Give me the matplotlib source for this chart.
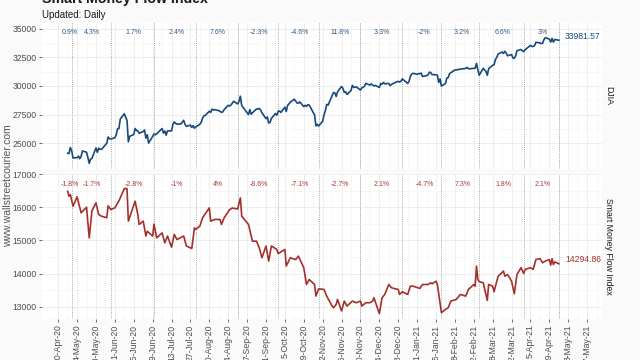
import matplotlib
matplotlib.use('Agg')
import matplotlib.pyplot as plt
import matplotlib.transforms as mtrans
import numpy as np
import pandas as pd

plt.rcParams['font.family'] = ['Liberation Sans', 'DejaVu Sans']

# ---------------- data ----------------
djia_apr20 = [24133.78, 24101.55, 24633.86, 24345.72]
djia_may20 = [23723.69, 23749.76, 23883.09, 23664.64, 23875.89, 24331.32, 24221.99, 23764.78, 23247.97, 23625.34,
              23685.42, 24597.37, 24206.86, 24575.90, 24474.12, 24465.16, 24995.11, 25548.27, 25400.64, 25383.11]
djia_jun20 = [25475.02, 25742.65, 26269.89, 26281.82, 27110.98, 27572.44, 27272.30, 26989.99, 25128.17, 25605.54,
              25763.16, 26289.98, 26119.61, 26080.10, 25871.46, 26024.96, 26156.10, 25445.94, 25745.60, 25015.55,
              25595.80, 25812.88]
djia_jul20 = [25734.97, 25827.36, 26287.03, 25890.18, 26067.28, 25706.09, 26075.30, 26085.80, 26642.59, 26870.10,
              26734.71, 26671.95, 26680.87, 26840.40, 27005.84, 26652.33, 26469.89, 26584.77, 26379.28, 26539.57,
              26313.65, 26428.32]
djia_aug20 = [26664.40, 26828.47, 27201.52, 27386.98, 27433.48, 27791.44, 27686.91, 27976.84, 27896.72, 27931.02,
              27844.91, 27778.07, 27692.88, 27739.73, 27930.33, 28308.46, 28248.44, 28331.92, 28492.27, 28653.87,
              28430.05]
djia_sep20 = [28645.66, 29100.50, 28292.73, 28133.31, 27500.89, 27940.47, 27534.58, 27665.64, 27993.33, 27995.60,
              28032.38, 27901.98, 27657.42, 27147.70, 27288.18, 26763.13, 26815.44, 27173.96, 27584.06, 27452.66,
              27781.70]
djia_oct20 = [27816.90, 27682.81, 28148.64, 27772.76, 28303.46, 28425.51, 28586.90, 28837.52, 28679.81, 28514.00,
              28494.20, 28606.31, 28195.42, 28308.79, 28210.82, 28363.66, 28335.57, 27685.38, 27463.19, 26519.95,
              26659.11, 26501.60]
djia_nov20 = [26925.05, 27480.03, 27847.66, 28390.18, 28323.40, 29157.97, 29420.92, 29397.63, 29080.17, 29479.81,
              29950.44, 29783.35, 29438.42, 29483.23, 29263.48, 29591.27, 30046.24, 29872.47, 29910.37, 29638.64]
djia_dec20 = [29823.92, 29883.79, 29969.52, 30218.26, 30069.79, 30173.88, 30068.81, 29999.26, 30046.37, 29861.55,
              30199.31, 30154.54, 30303.37, 30179.05, 30216.45, 30015.51, 30129.83, 30199.87, 30403.97, 30335.67,
              30409.56, 30606.48]
djia_jan21 = [30223.89, 30391.60, 30829.40, 31041.13, 31097.97, 31008.69, 31068.69, 31060.47, 31112.04, 30814.26,
              30930.52, 31188.38, 31176.01, 30996.98, 30960.00, 30937.04, 30303.17, 30603.36, 29982.62]
djia_feb21 = [30211.91, 30687.48, 30723.60, 31055.86, 31148.24, 31385.76, 31375.83, 31437.80, 31430.70, 31458.40,
              31522.75, 31613.02, 31493.34, 31494.32, 31521.69, 31537.35, 31961.86, 31402.01, 30932.37]
djia_mar21 = [31535.51, 31391.52, 31270.09, 30924.14, 31496.30, 31802.44, 31832.74, 32297.02, 32485.59, 32778.64,
              32953.46, 32825.95, 33015.37, 32862.30, 32627.97, 32731.20, 32423.15, 32420.06, 32619.48, 33072.88,
              33171.37, 33066.96, 32981.55]
djia_apr21 = [33153.21, 33527.19, 33430.24, 33446.26, 33503.57, 33800.60, 33745.40, 33677.27, 33730.89, 34035.99,
              34200.67, 34077.63, 33821.30, 34137.31, 33815.90, 34043.49, 33981.57]

market_holidays = ['2020-05-25', '2020-07-03', '2020-09-07', '2020-11-26', '2020-12-25',
                   '2021-01-01', '2021-01-18', '2021-02-15', '2021-04-02']

smfi_dates = [
    '2020-04-27', '2020-04-28', '2020-04-29', '2020-04-30', '2020-05-01', '2020-05-04', '2020-05-07', '2020-05-11',
    '2020-05-13', '2020-05-15', '2020-05-18', '2020-05-20', '2020-05-22', '2020-05-26', '2020-05-27', '2020-05-29',
    '2020-06-01', '2020-06-04', '2020-06-08', '2020-06-10', '2020-06-11', '2020-06-16', '2020-06-18', '2020-06-19',
    '2020-06-22', '2020-06-24', '2020-06-25', '2020-06-29', '2020-06-30', '2020-07-02', '2020-07-06', '2020-07-08',
    '2020-07-10', '2020-07-13', '2020-07-15', '2020-07-17', '2020-07-22', '2020-07-24', '2020-07-28', '2020-07-30',
    '2020-07-31', '2020-08-03', '2020-08-05', '2020-08-10', '2020-08-11', '2020-08-14', '2020-08-18', '2020-08-19',
    '2020-08-21', '2020-08-25', '2020-08-27', '2020-08-31', '2020-09-02', '2020-09-03', '2020-09-04', '2020-09-08',
    '2020-09-11', '2020-09-14', '2020-09-16', '2020-09-18', '2020-09-21', '2020-09-23', '2020-09-25', '2020-09-29',
    '2020-09-30', '2020-10-01', '2020-10-05', '2020-10-06', '2020-10-09', '2020-10-13', '2020-10-15', '2020-10-19',
    '2020-10-21', '2020-10-23', '2020-10-27', '2020-10-28', '2020-10-30', '2020-11-03', '2020-11-05', '2020-11-09',
    '2020-11-10', '2020-11-12', '2020-11-13', '2020-11-16', '2020-11-18', '2020-11-20', '2020-11-24', '2020-11-27',
    '2020-11-30', '2020-12-01', '2020-12-04', '2020-12-07', '2020-12-09', '2020-12-10', '2020-12-14', '2020-12-16',
    '2020-12-18', '2020-12-21', '2020-12-23', '2020-12-28', '2020-12-29', '2020-12-31', '2021-01-04', '2021-01-06',
    '2021-01-08', '2021-01-13', '2021-01-15', '2021-01-19', '2021-01-21', '2021-01-22', '2021-01-25', '2021-01-26',
    '2021-01-29', '2021-02-01', '2021-02-03', '2021-02-05', '2021-02-09', '2021-02-12', '2021-02-16', '2021-02-18',
    '2021-02-22', '2021-02-23', '2021-02-24', '2021-02-25', '2021-02-26', '2021-03-01', '2021-03-04', '2021-03-05',
    '2021-03-08', '2021-03-09', '2021-03-11', '2021-03-12', '2021-03-16', '2021-03-17', '2021-03-19', '2021-03-22',
    '2021-03-24', '2021-03-26', '2021-03-29', '2021-03-31', '2021-04-01', '2021-04-05', '2021-04-07', '2021-04-09',
    '2021-04-12', '2021-04-14', '2021-04-16', '2021-04-19', '2021-04-20', '2021-04-21', '2021-04-22', '2021-04-23',
    '2021-04-26']
smfi_values = [
    16480, 16330, 16380, 16210, 16030, 16310, 15830, 16000,
    15075, 15890, 16130, 15780, 15730, 15680, 16040, 15930,
    15980, 16190, 16560, 16560, 15580, 16180, 15780, 15480,
    15580, 15130, 15275, 15130, 15486, 15075, 15225, 14925,
    15130, 14795, 15180, 15025, 15130, 14830, 14755, 15380,
    15331, 15430, 15680, 15980, 15580, 15630, 15630, 15480,
    15680, 15925, 15975, 15945, 16280, 15730, 15680, 15480,
    14975, 14975, 14775, 14475, 14830, 14375, 14830, 14725,
    14600, 14625, 14725, 14225, 14475, 14420, 14525, 14175,
    13670, 13820, 13670, 13320, 13540, 13520, 13320, 13020,
    12970, 13070, 13220, 12870, 13170, 13020, 13170, 13120,
    13170, 13020, 13120, 13120, 13170, 13270, 12790, 13270,
    13370, 13670, 13570, 13520, 13370, 13450, 13370, 13620,
    13620, 13550, 13670, 13670, 13720, 13690, 13770, 13670,
    12820, 12920, 12970, 13170, 13220, 13370, 13320, 13520,
    13670, 13620, 14225, 13820, 13755, 13720, 13190, 13670,
    13620, 13450, 13770, 13920, 14075, 13920, 13970, 13770,
    13390, 13970, 14175, 14000, 14125, 14175, 14125, 14420,
    14450, 14325, 14375, 14420, 14255, 14450, 14270, 14350,
    14294.86]

djia_month_pct = ['0.9%', '4.3%', '1.7%', '2.4%', '7.6%', '-2.3%', '-4.6%', '11.8%', '3.3%', '-2%', '3.2%', '6.6%', '3%']
smfi_month_pct = ['-1.8%', '-1.7%', '-2.8%', '-1%', '4%', '-8.6%', '-7.1%', '-2.7%', '2.1%', '-4.7%', '7.3%', '1.8%', '2.1%']

djia_last_label = '33981.57'
smfi_last_label = '14294.86'

djia_yticks = [25000, 27500, 30000, 32500, 35000]
smfi_yticks = [13000, 14000, 15000, 16000, 17000]

# ---------------- build ----------------
djia = (djia_apr20 + djia_may20 + djia_jun20 + djia_jul20 + djia_aug20 + djia_sep20 + djia_oct20 +
        djia_nov20 + djia_dec20 + djia_jan21 + djia_feb21 + djia_mar21 + djia_apr21)
dates = pd.bdate_range('2020-04-27', '2021-04-26')
dates = dates[~dates.isin(pd.to_datetime(market_holidays))]
assert len(dates) == len(djia)
smfi_dt = pd.to_datetime(smfi_dates)

s = pd.Series(dates, index=dates)
per = dates.to_period('M')
month_end = s.groupby(per).max().values
month_mid = s.groupby(per).apply(lambda x: x.mean()).values

tick_dates = pd.date_range('2020-04-20', '2021-05-17', freq='14D')
minor_dates = tick_dates + pd.Timedelta(days=7)

BLUE = '#174a7c'
RED = '#a5302b'
BLUE_TXT = '#2f5b8c'
RED_TXT = '#a53a36'
GRID = '#ebebeb'
TXT = '#4d4d4d'

fig = plt.figure(figsize=(6.4, 3.6), dpi=100, facecolor='#fafafa')
ax1 = fig.add_axes([42 / 640, 1 - 169 / 360, 560 / 640, 146 / 360])
ax2 = fig.add_axes([42 / 640, 1 - 319 / 360, 560 / 640, 145 / 360])

xl = (pd.Timestamp('2020-04-08'), pd.Timestamp('2021-05-28'))

for ax in (ax1, ax2):
    ax.set_facecolor('white')
    for sp in ax.spines.values():
        sp.set_visible(False)
    ax.set_xlim(xl)
    ax.set_xticks(tick_dates)
    ax.set_xticks(minor_dates, minor=True)
    ax.grid(which='major', color=GRID, lw=0.6, zorder=0)
    ax.grid(which='minor', color='#f4f4f4', lw=0.5, zorder=0)
    ax.set_axisbelow(True)
    for d in month_end:
        ax.axvline(d, color='#8a8a8a', lw=0.6, ls=(0, (1, 1.6)), zorder=1)
    ax.tick_params(axis='both', which='major', labelsize=6.2, labelcolor=TXT, color='#333333',
                   length=2.5, width=0.5, pad=1.5)
    ax.tick_params(axis='both', which='minor', length=0)

# top panel
ax1.plot(dates, djia, color=BLUE, lw=1.2, zorder=3)
ax1.set_ylim(22760, 35480)
ax1.set_yticks(djia_yticks)
ax1.set_yticks([26250, 28750, 31250, 33750], minor=True)
ax1.tick_params(axis='x', which='major', length=0, labelbottom=False)
tr1 = mtrans.blended_transform_factory(ax1.transData, ax1.transAxes)
for d, t in zip(month_mid, djia_month_pct):
    ax1.text(d, 0.938, t, transform=tr1, ha='center', va='center', fontsize=5.0, color=BLUE_TXT)
ax1.annotate(djia_last_label, xy=(dates[-1], djia[-1]), xytext=(4.5, 2.5), textcoords='offset points',
             ha='left', va='center', fontsize=6.2, color=BLUE)

# bottom panel
ax2.plot(smfi_dt, smfi_values, color=RED, lw=1.2, zorder=3)
ax2.set_ylim(12630, 17000)
ax2.set_yticks(smfi_yticks)
ax2.set_yticks([13500, 14500, 15500, 16500], minor=True)
ax2.set_xticklabels([f"{d.day}-{d.strftime('%b-%y')}" for d in tick_dates], rotation=90)
tr2 = mtrans.blended_transform_factory(ax2.transData, ax2.transAxes)
for d, t in zip(month_mid, smfi_month_pct):
    ax2.text(d, 0.93, t, transform=tr2, ha='center', va='center', fontsize=5.0, color=RED_TXT)
ax2.annotate(smfi_last_label, xy=(smfi_dt[-1], smfi_values[-1]), xytext=(4.5, 3), textcoords='offset points',
             ha='left', va='center', fontsize=6.2, color=RED)

# strip labels
fig.text(609 / 640, 1 - 96 / 360, 'DJIA', rotation=270, ha='center', va='center', fontsize=6.3, color='#1a1a1a')
fig.text(609 / 640, 1 - 246.5 / 360, 'Smart Money Flow Index', rotation=270, ha='center', va='center',
         fontsize=6.3, color='#1a1a1a')

# titles and watermark
fig.text(42 / 640, 1 - 3 / 360, 'Smart Money Flow Index', fontsize=10.2, fontweight='bold', ha='left',
         va='baseline', color='#1a1a1a')
fig.text(42 / 640, 1 - 17.5 / 360, 'Updated: Daily', fontsize=7, ha='left', va='baseline', color='#1a1a1a')
fig.text(8 / 640, 1 - 186 / 360, 'www.wallstreetcourier.com', rotation=90, ha='center', va='center',
         fontsize=7.5, color='#555555')

fig.savefig('out.png', dpi=100, facecolor=fig.get_facecolor())
